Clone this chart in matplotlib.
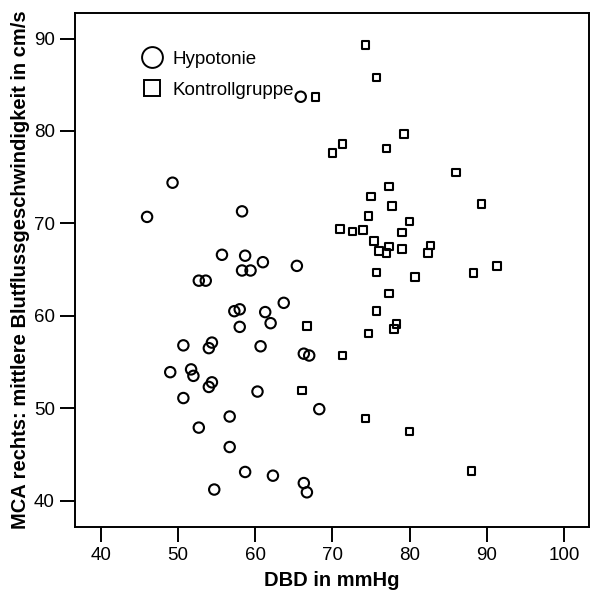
import matplotlib
matplotlib.use("Agg")
import matplotlib.pyplot as plt
from matplotlib.lines import Line2D

plt.rcParams['font.family'] = ['Liberation Sans', 'DejaVu Sans']

# Hypotonie-Gruppe: DBD (mmHg) und mittlere Blutflussgeschwindigkeit (cm/s)
hypo_dbd = [65.9, 49.3, 46.0, 58.3, 55.7, 58.7, 61.0, 58.3, 59.4, 65.4,
            52.7, 53.6, 57.3, 58.0, 61.3, 63.7, 62.0, 58.0, 50.7, 54.4,
            54.0, 60.7, 66.3, 67.0, 49.0, 51.7, 52.0, 54.4, 54.0, 50.7,
            60.3, 68.3, 56.7, 52.7, 56.7, 58.7, 62.3, 54.7, 66.3, 66.7]
hypo_mca = [83.7, 74.4, 70.7, 71.3, 66.6, 66.5, 65.8, 64.9, 64.9, 65.4,
            63.8, 63.8, 60.5, 60.7, 60.4, 61.4, 59.2, 58.8, 56.8, 57.1,
            56.5, 56.7, 55.9, 55.7, 53.9, 54.2, 53.5, 52.8, 52.3, 51.1,
            51.8, 49.9, 49.1, 47.9, 45.8, 43.1, 42.7, 41.2, 41.9, 40.9]

# Kontrollgruppe
ctrl_dbd = [67.8, 70.0, 71.3, 74.3, 75.7, 79.3, 77.0, 86.0, 77.3, 75.0,
            89.3, 77.7, 74.7, 80.0, 71.0, 72.6, 74.0, 79.0, 75.4, 76.0,
            77.0, 77.3, 79.0, 82.7, 82.4, 75.7, 80.7, 88.3, 91.3, 77.3,
            75.7, 66.7, 78.3, 78.0, 74.7, 71.3, 66.1, 74.3, 80.0, 88.0]
ctrl_mca = [83.7, 77.6, 78.6, 89.3, 85.8, 79.7, 78.1, 75.5, 74.0, 72.9,
            72.1, 71.9, 70.8, 70.2, 69.4, 69.1, 69.3, 69.0, 68.1, 67.0,
            66.8, 67.5, 67.2, 67.6, 66.8, 64.7, 64.2, 64.6, 65.4, 62.4,
            60.5, 58.9, 59.1, 58.6, 58.1, 55.7, 51.9, 48.9, 47.5, 43.2]

x_ticks = [40, 50, 60, 70, 80, 90, 100]
y_ticks = [40, 50, 60, 70, 80, 90]

fig = plt.figure(figsize=(6.15, 5.96), dpi=100)
ax = fig.add_axes([0.122, 0.1166, 0.8363, 0.8611])

ax.scatter(hypo_dbd, hypo_mca, s=56, marker='o', facecolors='none',
           edgecolors='black', linewidths=1.5)
ax.scatter(ctrl_dbd, ctrl_mca, s=30, marker='s', facecolors='none',
           edgecolors='black', linewidths=1.5)

ax.set_xlim(36.67, 103.28)
ax.set_ylim(37.2, 92.73)
ax.set_xticks(x_ticks)
ax.set_yticks(y_ticks)

for sp in ax.spines.values():
    sp.set_linewidth(1.4)
ax.tick_params(direction='out', length=10.5, width=1.4, labelsize=13.5, pad=4)

ax.set_xlabel('DBD in mmHg', fontsize=14.5, fontweight='bold', labelpad=5)
ax.set_ylabel('MCA rechts: mittlere Blutflussgeschwindigkeit in cm/s',
              fontsize=14.5, fontweight='bold', labelpad=3)

handles = [
    Line2D([], [], linestyle='none', marker='o', markersize=15,
           markerfacecolor='none', markeredgecolor='black', markeredgewidth=1.4),
    Line2D([], [], linestyle='none', marker='s', markersize=11.5,
           markerfacecolor='none', markeredgecolor='black', markeredgewidth=1.4),
]
ax.legend(handles, ['Hypotonie', 'Kontrollgruppe'], loc='upper left',
          bbox_to_anchor=(0.1314, 0.927), frameon=False, fontsize=13.5,
          borderpad=0, borderaxespad=0, handlelength=1.0, handletextpad=0.6,
          labelspacing=0.72)

fig.savefig('out.png', dpi=100)
